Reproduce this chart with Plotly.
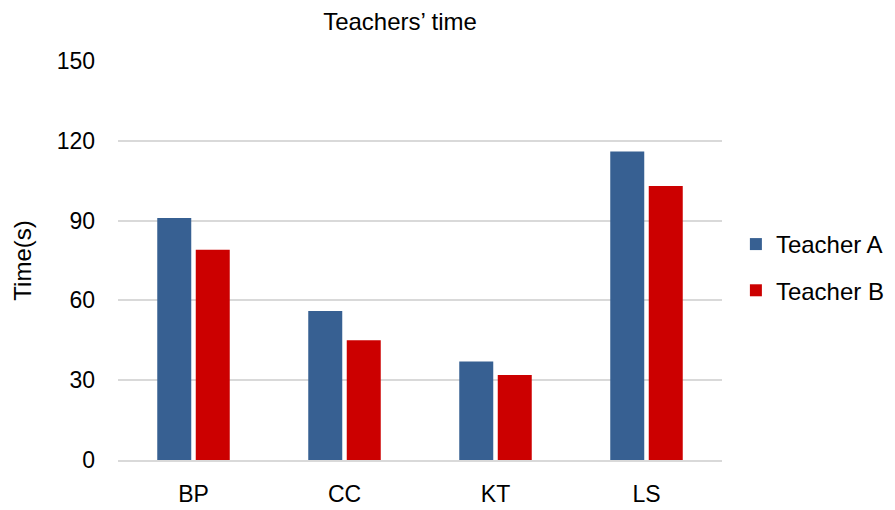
import plotly.graph_objects as go

categories = ["BP", "CC", "KT", "LS"]
teacher_a = [91, 56, 37, 116]
teacher_b = [79, 45, 32, 103]
y_ticks = [0, 30, 60, 90, 120, 150]

font = "Liberation Sans, Arial, sans-serif"

fig = go.Figure()
fig.add_trace(go.Bar(x=categories, y=teacher_a, name="Teacher A", legendgroup="a",
                     marker=dict(color="#376092", line=dict(width=0))))
fig.add_trace(go.Bar(x=categories, y=teacher_b, name="Teacher B", legendgroup="b",
                     marker=dict(color="#cc0000", line=dict(width=0))))

# page body has an 8px default margin, so the figure is sized to fit the window
fig.update_layout(
    width=887, height=502,
    paper_bgcolor="white", plot_bgcolor="white",
    margin=dict(l=110, r=173, t=53, b=50, autoexpand=False),
    barmode="group", bargap=0.49, bargroupgap=0.117,
    font=dict(family=font, color="black"),
    title=dict(text="Teachers’ time", x=0.442, xanchor="center", y=0.972, yanchor="middle",
               font=dict(size=24, family=font, color="black")),
    legend=dict(x=1.023, y=0.4825, xanchor="left", yanchor="middle",
                font=dict(size=24, family=font), itemwidth=30, tracegroupgap=12),
    showlegend=True,
)
fig.update_xaxes(showgrid=False, showline=True, linecolor="#d9d9d9", linewidth=2,
                 ticks="", tickfont=dict(size=23, family=font), ticklabelstandoff=12,
                 automargin=False)
fig.update_yaxes(range=[0, 150], tickvals=y_ticks, showgrid=True, gridcolor="#d9d9d9",
                 gridwidth=1.5, zeroline=False, showline=False, ticks="",
                 tickfont=dict(size=23, family=font), ticklabelstandoff=22,
                 automargin=False,
                 title=dict(text="Time(s)", font=dict(size=24, family=font), standoff=18))

fig.write_html("out.html")
